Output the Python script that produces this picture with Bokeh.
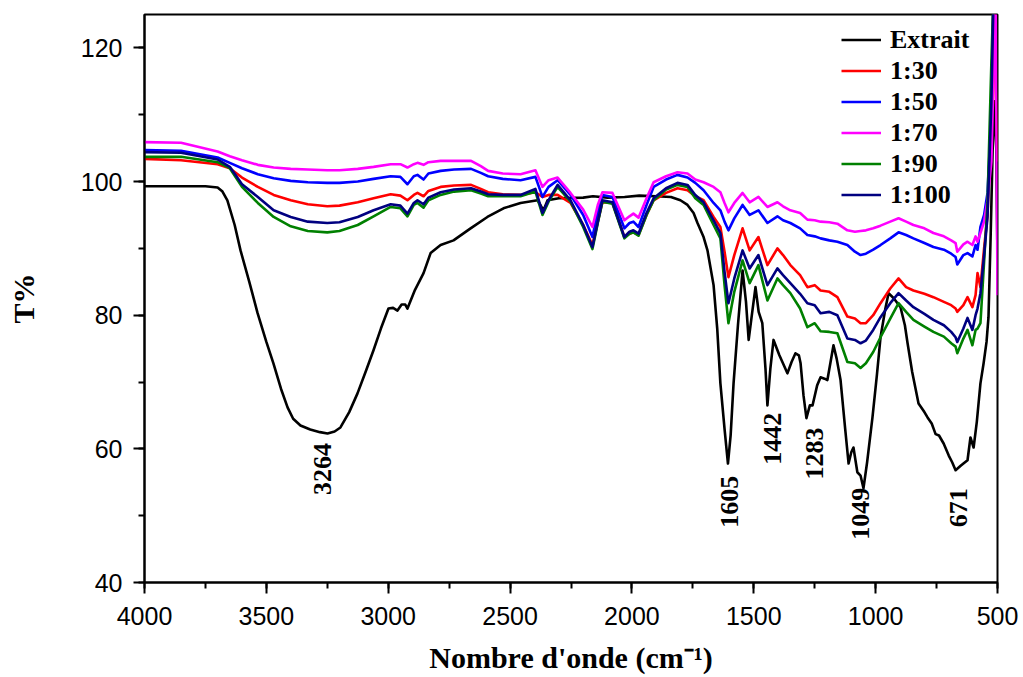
import math
from bokeh.plotting import figure
from bokeh.models import Range1d, SingleIntervalTicker, Legend, LegendItem, ColumnDataSource
from bokeh.core.properties import value
from bokeh.embed import file_html
from bokeh.resources import INLINE

# ---------------- data ----------------
# Extrait (black) wavenumbers and transmittance
wn_extrait = [4000, 3850, 3750, 3700, 3680, 3660, 3630, 3606, 3570, 3536, 3500, 3471, 3440, 3413,
              3390, 3360, 3320, 3280, 3249, 3220, 3196, 3160, 3126, 3090, 3060, 3030, 2999, 2980,
              2962, 2945, 2930, 2921, 2890, 2855, 2826, 2785, 2732, 2662, 2593, 2527, 2457, 2387,
              2363, 2346, 2300, 2200, 2160, 2100, 2030, 1970, 1900, 1840, 1801, 1772, 1747, 1731,
              1706, 1690, 1665, 1650, 1637, 1620, 1606, 1595, 1583, 1565, 1546, 1532, 1521, 1508,
              1493, 1480, 1465, 1452, 1444, 1432, 1419, 1395, 1362, 1345, 1329, 1315, 1308, 1296,
              1284, 1270, 1259, 1240, 1226, 1210, 1198, 1185, 1173, 1160, 1144, 1125, 1111, 1100,
              1091, 1075, 1062, 1050, 1035, 1013, 995, 980, 960, 947, 925, 898, 880, 869, 850,
              824, 800, 787, 770, 760, 754, 740, 721, 700, 686, 672, 650, 623, 611, 598, 585, 570,
              557, 545, 537, 528, 520, 512, 505, 500]
t_extrait = [99.3, 99.3, 99.3, 99.1, 98.5, 97.2, 93.5, 89.7, 85.0, 80.3, 76.0, 72.8, 69.0, 66.2,
             64.5, 63.5, 62.9, 62.5, 62.3, 62.6, 63.2, 65.5, 68.3, 71.8, 74.8, 78.0, 81.0, 81.1,
             80.7, 81.6, 81.6, 81.0, 83.8, 86.3, 89.3, 90.5, 91.2, 93.0, 94.7, 96.0, 96.8, 97.2,
             95.7, 97.2, 97.5, 97.6, 97.8, 97.6, 97.7, 97.9, 97.8, 97.7, 97.2, 96.5, 95.3, 93.8,
             91.7, 89.7, 84.5, 78.0, 69.8, 63.0, 57.8, 62.0, 69.8, 78.5, 86.7, 82.0, 76.3, 80.0,
             84.2, 80.5, 78.8, 72.0, 66.5, 72.0, 76.3, 74.0, 71.3, 73.0, 74.3, 74.0, 72.8, 68.0,
             64.6, 66.5, 66.5, 69.5, 70.7, 70.5, 70.3, 73.0, 75.5, 73.5, 70.3, 63.0, 57.8, 59.5,
             60.2, 56.5, 56.0, 54.1, 58.0, 64.7, 71.0, 76.7, 81.0, 83.3, 82.5, 81.2, 78.5, 75.8, 71.5,
             66.8, 65.5, 64.7, 63.8, 62.8, 62.2, 62.0, 60.8, 59.0, 58.0, 56.8, 57.5, 58.3, 61.7, 60.2, 64.0, 69.8,
             72.8, 76.0, 79.7, 92.0, 104.7, 112.0, 105.0, 88.0]

# common wavenumber grid of the five composite spectra
wn_grid = [4000, 3850, 3700, 3650, 3600, 3535, 3470, 3400, 3330, 3250, 3200, 3125, 3060, 2990,
           2950, 2921, 2895, 2880, 2855, 2835, 2785, 2730, 2660, 2620, 2590, 2530, 2457, 2396,
           2367, 2342, 2305, 2252, 2200, 2162, 2140, 2121, 2080, 2031, 2010, 1994, 1973, 1940,
           1911, 1860, 1813, 1772, 1740, 1706, 1665, 1637, 1620, 1604, 1580, 1546, 1517, 1481,
           1444, 1403, 1380, 1350, 1310, 1280, 1250, 1226, 1190, 1157, 1116, 1085, 1062, 1040,
           1010, 980, 940, 906, 875, 845, 800, 763, 720, 690, 672, 665, 640, 623, 603, 590, 582,
           570, 555, 541, 525, 515, 508, 500]

t_1_30 = [103.4, 103.2, 102.6, 102.0, 100.6, 99.2, 98.0, 97.2, 96.6, 96.3, 96.4, 96.9, 97.5, 98.1,
          97.9, 97.2, 98.0, 98.3, 97.8, 98.6, 99.2, 99.4, 99.5, 98.9, 98.4, 98.1, 98.0, 98.4,
          97.7, 98.0, 98.0, 96.8, 93.5, 90.5, 94.0, 96.9, 96.8, 91.7, 92.2, 92.4, 92.0, 95.0,
          97.2, 98.3, 99.0, 98.7, 97.8, 97.2, 94.7, 93.2, 89.5, 85.7, 89.0, 93.0, 89.7, 91.7,
          87.5, 90.0, 89.0, 87.5, 86.0, 84.2, 84.5, 83.7, 83.5, 82.7, 79.8, 79.5, 78.8, 78.8,
          80.0, 81.8, 84.0, 85.5, 84.2, 83.7, 83.2, 82.7, 82.0, 81.5, 81.0, 80.5, 81.5, 82.7, 81.2, 83.0, 86.3,
          84.2, 90.0, 95.0, 110.0, 130.0, 115.0, 103.0]

t_1_50 = [104.7, 104.6, 103.6, 102.8, 102.0, 101.1, 100.5, 100.1, 99.9, 99.8, 99.8, 100.0, 100.4, 100.8,
          100.7, 99.6, 100.8, 101.0, 100.3, 101.2, 101.6, 101.8, 101.9, 101.3, 100.8, 100.4, 100.2, 100.7,
          97.7, 99.2, 100.2, 98.0, 95.0, 91.7, 95.5, 98.0, 97.7, 93.0, 93.8, 94.0, 93.2, 96.5,
          99.2, 100.3, 101.0, 100.6, 99.8, 98.7, 96.8, 95.7, 94.0, 92.7, 94.5, 96.5, 95.0, 95.7,
          93.8, 94.8, 94.2, 93.8, 93.0, 92.0, 91.8, 91.5, 91.2, 91.0, 90.5, 89.5, 89.0, 89.2,
          89.8, 90.5, 91.5, 92.4, 92.0, 91.5, 90.8, 90.2, 89.8, 89.2, 88.7, 87.6, 89.0, 89.3, 88.8, 90.5, 89.8,
          93.2, 95.0, 98.3, 110.0, 130.0, 130.0, 130.0]

t_1_70 = [105.9, 105.8, 104.5, 103.8, 103.2, 102.5, 102.1, 101.9, 101.8, 101.7, 101.7, 101.9, 102.2, 102.6,
          102.6, 102.1, 102.6, 102.8, 102.5, 102.9, 103.1, 103.1, 103.1, 102.3, 101.6, 101.2, 101.1, 101.7,
          99.2, 100.2, 100.6, 98.3, 95.8, 93.2, 96.5, 98.4, 98.3, 94.2, 94.8, 95.2, 94.6, 97.5,
          99.9, 100.8, 101.4, 101.2, 100.3, 99.9, 99.2, 98.4, 96.8, 95.4, 96.8, 98.3, 96.9, 97.7,
          96.2, 96.9, 96.3, 95.7, 95.3, 94.3, 94.2, 94.0, 93.9, 93.7, 92.7, 92.5, 92.6, 92.7,
          93.0, 93.4, 94.0, 94.5, 94.0, 93.5, 93.0, 92.3, 91.8, 91.2, 90.8, 89.5, 90.6, 91.0, 90.5, 91.8, 91.0,
          92.3, 94.0, 97.2, 103.0, 118.0, 130.0, 83.0]

t_1_90 = [103.7, 103.7, 102.9, 102.0, 99.2, 96.8, 94.7, 93.3, 92.6, 92.4, 92.6, 93.5, 94.8, 96.2,
          96.0, 94.8, 96.5, 96.8, 96.1, 97.2, 98.0, 98.5, 98.7, 98.2, 97.8, 97.8, 97.8, 98.5,
          95.0, 97.0, 99.2, 97.0, 93.2, 89.9, 93.8, 97.0, 96.7, 91.5, 92.2, 92.4, 91.9, 95.0,
          97.2, 98.8, 99.5, 99.2, 97.5, 96.5, 93.5, 91.5, 84.5, 78.8, 83.5, 88.2, 84.8, 87.5,
          82.2, 85.5, 84.5, 83.3, 81.0, 78.2, 78.8, 77.6, 77.5, 77.3, 73.0, 72.8, 72.1, 72.8,
          74.5, 76.7, 79.5, 81.8, 80.5, 79.3, 78.3, 77.5, 76.8, 75.8, 75.3, 74.3, 76.5, 77.8, 75.5, 77.8, 78.0,
          78.8, 88.0, 96.8, 118.0, 130.0, 130.0, 130.0]

t_1_100 = [104.4, 104.3, 103.3, 102.2, 99.6, 97.7, 95.7, 94.7, 94.0, 93.8, 93.9, 94.7, 95.7, 96.6,
           96.4, 95.2, 96.8, 97.2, 96.6, 97.6, 98.4, 98.8, 99.0, 98.5, 98.1, 98.0, 98.0, 98.9,
           95.3, 97.2, 99.5, 97.2, 93.5, 90.2, 94.0, 97.2, 96.9, 91.7, 92.5, 92.7, 92.2, 95.3,
           97.5, 99.0, 99.8, 99.5, 98.0, 96.9, 94.2, 92.3, 86.5, 81.8, 85.5, 89.7, 87.0, 89.0,
           84.5, 87.0, 86.0, 84.8, 83.2, 81.8, 81.5, 80.3, 80.5, 80.0, 76.5, 76.3, 75.8, 76.2,
           77.8, 79.7, 81.8, 83.3, 82.2, 81.2, 80.2, 79.3, 78.5, 77.5, 76.7, 76.0, 78.0, 79.6, 77.8, 80.0, 81.0,
           83.3, 89.0, 94.7, 112.0, 130.0, 130.0, 130.0]

series_names = ["Extrait", "1:30", "1:50", "1:70", "1:90", "1:100"]
series_colors = ["#000000", "#FF0000", "#0000FF", "#FF00FF", "#008000", "#000080"]

peak_labels = ["3264", "1605", "1442", "1283", "1049", "671"]
peak_label_x = [3270, 1600, 1423, 1251, 1062, 660]
peak_label_y = [57.0, 52.1, 61.5, 59.3, 50.3, 51.2]

# ---------------- figure ----------------
p = figure(width=1023, height=677, output_backend="svg", toolbar_location=None,
           x_range=Range1d(4000, 500), y_range=Range1d(40, 125),
           min_border_left=144, min_border_right=26, min_border_top=14, min_border_bottom=95)
p.background_fill_color = "white"
p.border_fill_color = "white"
p.xgrid.visible = False
p.ygrid.visible = False
p.outline_line_color = "black"
p.outline_line_width = 2
p.outline_line_alpha = 1.0

p.xaxis.ticker = SingleIntervalTicker(interval=500, num_minor_ticks=2)
p.yaxis.ticker = SingleIntervalTicker(interval=20, num_minor_ticks=2)

for ax in (p.xaxis[0], p.yaxis[0]):
    ax.axis_line_width = 2
    ax.axis_line_color = "black"
    ax.major_tick_line_width = 2
    ax.minor_tick_line_width = 2
    ax.major_tick_in = 0
    ax.major_tick_out = 11
    ax.minor_tick_in = 0
    ax.minor_tick_out = 6
    ax.major_label_text_font = "Liberation Sans"
    ax.major_label_text_font_size = "25px"
    ax.major_label_text_color = "black"
    ax.axis_label_text_font = "Liberation Serif"
    ax.axis_label_text_font_style = "bold"
    ax.axis_label_text_font_size = "30px"
    ax.axis_label_text_color = "black"

p.xaxis.axis_label = "Nombre d'onde (cm\u207b\u00b9)"
p.yaxis.axis_label = "T%"
p.xaxis.major_label_standoff = 13
p.yaxis.major_label_standoff = 11
p.xaxis.axis_label_standoff = 13
p.yaxis.axis_label_standoff = 38

xs_all = [wn_extrait, wn_grid, wn_grid, wn_grid, wn_grid, wn_grid]
ys_all = [t_extrait, t_1_30, t_1_50, t_1_70, t_1_90, t_1_100]

items = []
for name, color, xs, ys in zip(series_names, series_colors, xs_all, ys_all):
    src = ColumnDataSource(dict(x=xs, y=ys))
    r = p.line("x", "y", source=src, line_color=color, line_width=2.6, line_join="round")
    items.append(LegendItem(label=name, renderers=[r]))

legend = Legend(items=items, location=(697, 372))
legend.label_text_font = "Liberation Serif"
legend.label_text_font_style = "bold"
legend.label_text_font_size = "26px"
legend.label_text_color = "black"
legend.glyph_width = 40
legend.glyph_height = 31
legend.label_height = 31
legend.label_standoff = 9
legend.spacing = 0
legend.padding = 10
legend.border_line_color = None
legend.background_fill_alpha = 0
p.add_layout(legend, "center")

lab_src = ColumnDataSource(dict(x=peak_label_x, y=peak_label_y, t=peak_labels))
p.text("x", "y", text="t", source=lab_src, angle=math.pi / 2,
       text_font=value("Liberation Serif"), text_font_style="bold",
       text_font_size="26px", text_color="black",
       text_align="center", text_baseline="middle")

open("out.html", "w").write(file_html(p, INLINE))
